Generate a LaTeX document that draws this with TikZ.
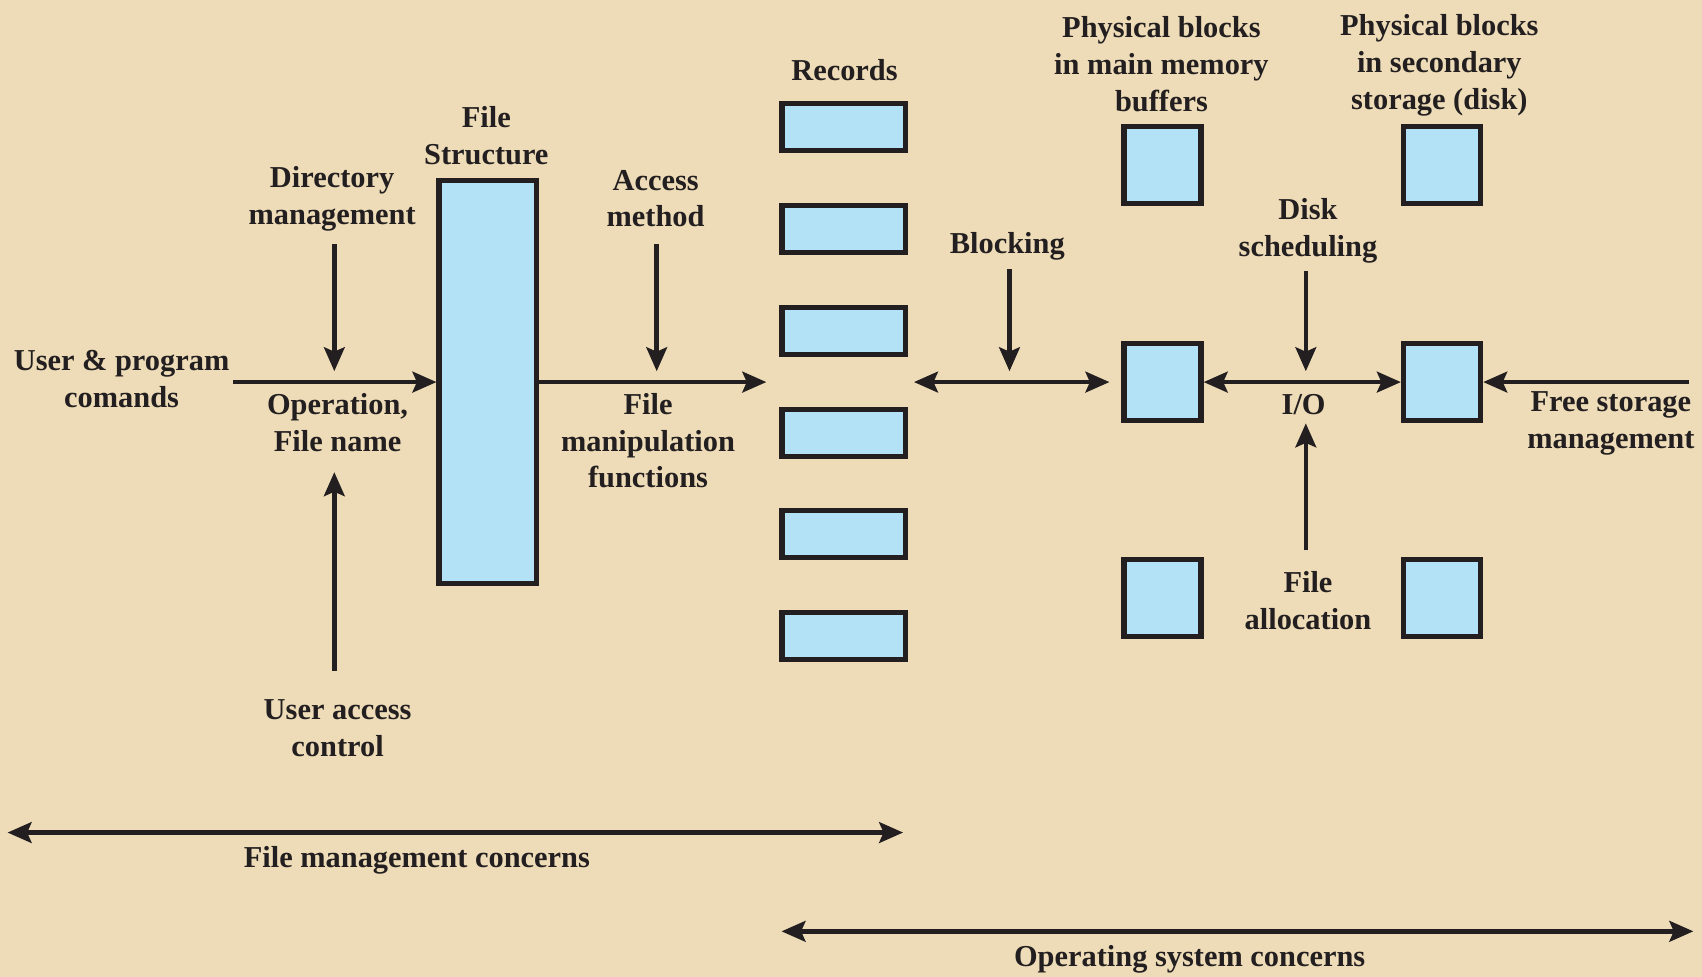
\documentclass[tikz,border=0pt]{standalone}
\usepackage{fontspec}
\setmainfont{Liberation Serif}
\usetikzlibrary{arrows.meta}
\definecolor{bgc}{RGB}{237,220,183}
\definecolor{boxblue}{RGB}{179,226,247}
\definecolor{ink}{RGB}{35,31,32}
\tikzset{
  blk/.style={draw=ink, fill=boxblue, line width=4.8pt, inner sep=0pt},
  recbox/.style={blk, minimum width=114pt, minimum height=43pt},
  sqbox/.style={blk, minimum width=71pt, minimum height=71pt},
  lbl/.style={align=center, text=ink, inner sep=0pt, font=\fontsize{28}{34}\selectfont\bfseries},
  arr/.style={draw=ink, line width=4.2pt, -{Stealth[length=22pt,width=19pt,inset=4pt]}},
  darr/.style={draw=ink, line width=4.2pt, {Stealth[length=22pt,width=19pt,inset=4pt]}-{Stealth[length=22pt,width=19pt,inset=4pt]}}
}
\begin{document}
\begin{tikzpicture}[x=1pt,y={(0pt,-1pt)}]
\fill[bgc] (0,0) rectangle (1568,900);
\useasboundingbox (0,0) rectangle (1568,900);

% boxes
\node[blk, minimum width=90pt, minimum height=371pt] (fs) at (449.5,352) {};
\foreach \i/\y in {1/117,2/211,3/305,4/399,5/492,6/586}
  \node[recbox] (r\i) at (777.5,\y) {};
\node[sqbox] (mt) at (1071,152) {};
\node[sqbox] (mm) at (1071,352) {};
\node[sqbox] (mb) at (1071,551) {};
\node[sqbox] (st) at (1328.5,152) {};
\node[sqbox] (sm) at (1328.5,352) {};
\node[sqbox] (sb) at (1328.5,551) {};

% labels
\node[lbl] (records) at (778,65) {Records};
\node[lbl] (fstruct) at (448,125) {File\\Structure};
\node[lbl] (dirm) at (306,183) {Directory\\management};
\node[lbl] (accm) at (604,183) {Access\\method};
\node[lbl] (user) at (112,349) {User \& program\\comands};
\node[lbl] (oper) at (311,389) {Operation,\\File name};
\node[lbl] (fmf) at (597,406) {File\\manipulation\\functions};
\node[lbl] (uac) at (311,671) {User access\\control};
\node[lbl] (blocking) at (928,227) {Blocking};
\node[lbl] (pbm) at (1070,59) {Physical blocks\\in main memory\\buffers};
\node[lbl] (pbs) at (1326,60) {Physical blocks\\in secondary\\storage (disk)};
\node[lbl] (disk) at (1205,213) {Disk\\scheduling};
\node[lbl] (io) at (1201,373) {I/O};
\node[lbl] (free) at (1484,390) {Free storage\\management};
\node[lbl] (falloc) at (1205,553) {File\\allocation};
\node[lbl] (fmc) at (384,793) {File management concerns};
\node[lbl] (osc) at (1096,884) {Operating system concerns};

% coordinates for free ends
\coordinate (uin) at (215,352);
\coordinate (fout) at (706,352);
\coordinate (bl) at (842,352);
\coordinate (fsin) at (1556,352);
\coordinate (d1) at (308,225); \coordinate (d2) at (308,342);
\coordinate (u1) at (308,618); \coordinate (u2) at (308,435);
\coordinate (a1) at (605,225); \coordinate (a2) at (605,342);
\coordinate (b1) at (930,248); \coordinate (b2) at (930,342);
\coordinate (k1) at (1203,250); \coordinate (k2) at (1203,342);
\coordinate (f1) at (1203,507); \coordinate (f2) at (1203,390);
\coordinate (fm1) at (7,767); \coordinate (fm2) at (832,767);
\coordinate (os1) at (720,858); \coordinate (os2) at (1560,858);

% connectors
\draw[arr] (uin) -- (fs.west);
\draw[arr] (fs.east) -- (fout);
\draw[darr, shorten >=11pt] (bl) -- (mm.west);
\draw[darr] (mm.east) -- (sm.west);
\draw[arr] (fsin) -- (sm.east);
\draw[arr] (d1) -- (d2);
\draw[arr] (u1) -- (u2);
\draw[arr] (a1) -- (a2);
\draw[arr] (b1) -- (b2);
\draw[arr] (k1) -- (k2);
\draw[arr] (f1) -- (f2);
\draw[darr] (fm1) -- (fm2);
\draw[darr] (os1) -- (os2);
\end{tikzpicture}
\end{document}
